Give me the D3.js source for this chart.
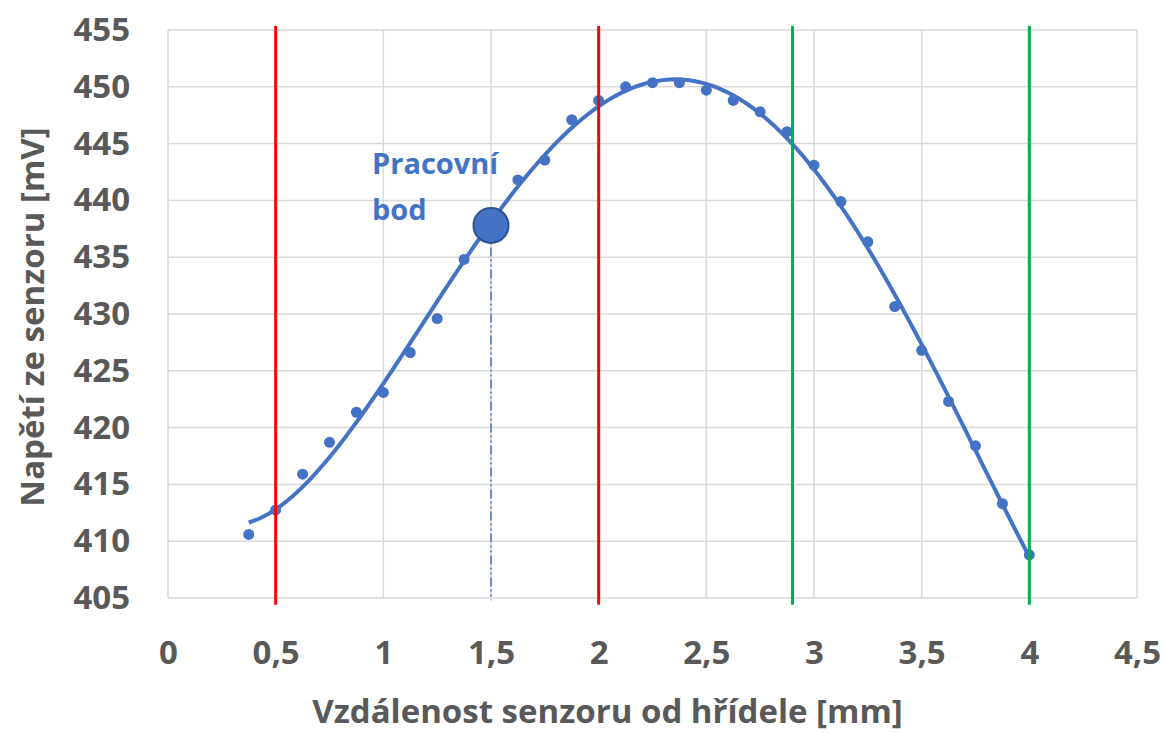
<!DOCTYPE html>
<html>
<head>
<meta charset="utf-8">
<script src="https://cdn.jsdelivr.net/npm/d3@7"></script>
<style>
  body { margin: 0; background: #fff; }
  text { font-family: "Open Sans", sans-serif; font-weight: bold; }
</style>
</head>
<body>
<div id="chart"></div>
<script>
// measured points: distance [mm] and sensor voltage [mV]
const distances = [0.375, 0.5, 0.625, 0.75, 0.875, 1.0, 1.125, 1.25, 1.375, 1.5,
    1.625, 1.75, 1.875, 2.0, 2.125, 2.25, 2.375, 2.5, 2.625, 2.75,
    2.875, 3.0, 3.125, 3.25, 3.375, 3.5, 3.625, 3.75, 3.875, 4.0];
const voltages = [410.6, 412.75, 415.9, 418.7, 421.35, 423.1, 426.6, 429.6, 434.8, 437.8,
    441.8, 443.55, 447.1, 448.8, 450.0, 450.36, 450.36, 449.7, 448.8, 447.8,
    446.05, 443.1, 439.9, 436.35, 430.65, 426.8, 422.3, 418.4, 413.3, 408.8];

// limits of the ranges
const redLines = [0.5, 2.0];
const greenLines = [2.9, 4.0];

// working point
const workX = 1.5;
const workY = 437.8;
const workLabel = ["Pracovní", "bod"];

const xTicks = [0, 0.5, 1, 1.5, 2, 2.5, 3, 3.5, 4, 4.5];
const yTicks = [405, 410, 415, 420, 425, 430, 435, 440, 445, 450, 455];

const xTitle = "Vzdálenost senzoru od hřídele [mm]";
const yTitle = "Napětí ze senzoru [mV]";

// set the dimensions and margins of the graph
const margin = { top: 30, right: 28, bottom: 135, left: 168 },
    width = 1165 - margin.left - margin.right,
    height = 733 - margin.top - margin.bottom;

const svg = d3.select("#chart")
    .append("svg")
    .attr("width", 1165)
    .attr("height", 733)
    .append("g")
    .attr("transform", `translate(${margin.left},${margin.top})`);

const x = d3.scaleLinear().domain([0, 4.5]).range([0, width]);
const y = d3.scaleLinear().domain([405, 455]).range([height, 0]);

// grid lines
svg.append("g")
    .selectAll("line")
    .data(yTicks)
    .join("line")
    .attr("x1", 0).attr("x2", width)
    .attr("y1", d => y(d)).attr("y2", d => y(d))
    .attr("stroke", "#d9d9d9")
    .attr("stroke-width", 1.5);

svg.append("g")
    .selectAll("line")
    .data(xTicks)
    .join("line")
    .attr("x1", d => x(d)).attr("x2", d => x(d))
    .attr("y1", 0).attr("y2", height)
    .attr("stroke", "#d9d9d9")
    .attr("stroke-width", 1.5);

// x axis labels
const xAxis = svg.append("g")
    .attr("transform", `translate(0, ${height})`)
    .call(d3.axisBottom(x).tickValues(xTicks).tickSize(0).tickPadding(43)
        .tickFormat(d => String(d).replace(".", ",")));
xAxis.select(".domain").remove();
xAxis.selectAll("text")
    .attr("fill", "#595959")
    .style("font-size", "33px");

// y axis labels
const yAxis = svg.append("g")
    .call(d3.axisLeft(y).tickValues(yTicks).tickSize(0).tickPadding(38));
yAxis.select(".domain").remove();
yAxis.selectAll("text")
    .attr("fill", "#595959")
    .style("font-size", "33px");

// axis titles
svg.append("text")
    .attr("x", width / 2 - 45)
    .attr("y", height + 125)
    .attr("text-anchor", "middle")
    .attr("fill", "#595959")
    .style("font-size", "33px")
    .text(xTitle);

svg.append("text")
    .attr("transform", "rotate(-90)")
    .attr("x", -287)
    .attr("y", -124)
    .attr("text-anchor", "middle")
    .attr("fill", "#595959")
    .style("font-size", "33px")
    .text(yTitle);

// polynomial trendline (least squares, order 4) as Excel does it
function polyFit(xs, ys, order) {
    const n = order + 1;
    const A = Array.from({ length: n }, () => new Array(n + 1).fill(0));
    xs.forEach((xv, k) => {
        for (let i = 0; i < n; i++) {
            for (let j = 0; j < n; j++) A[i][j] += Math.pow(xv, i + j);
            A[i][n] += ys[k] * Math.pow(xv, i);
        }
    });
    for (let c = 0; c < n; c++) {
        let p = c;
        for (let r = c + 1; r < n; r++) if (Math.abs(A[r][c]) > Math.abs(A[p][c])) p = r;
        [A[c], A[p]] = [A[p], A[c]];
        for (let r = 0; r < n; r++) {
            if (r === c) continue;
            const f = A[r][c] / A[c][c];
            for (let k = c; k <= n; k++) A[r][k] -= f * A[c][k];
        }
    }
    return A.map((row, i) => row[n] / row[i]);
}
const coef = polyFit(distances, voltages, 4);
const fitY = xv => coef.reduce((s, c, i) => s + c * Math.pow(xv, i), 0);
const fitData = d3.range(0, 201).map(i => {
    const xv = distances[0] + (distances[distances.length - 1] - distances[0]) * i / 200;
    return [xv, fitY(xv)];
});

svg.append("path")
    .datum(fitData)
    .attr("fill", "none")
    .attr("stroke", "#4472c4")
    .attr("stroke-width", 4)
    .attr("d", d3.line().x(d => x(d[0])).y(d => y(d[1])));

// measured points
svg.append("g")
    .selectAll("circle")
    .data(distances.map((d, i) => [d, voltages[i]]))
    .join("circle")
    .attr("cx", d => x(d[0]))
    .attr("cy", d => y(d[1]))
    .attr("r", 5.5)
    .attr("fill", "#4472c4");

// range limits
svg.append("g")
    .selectAll("line")
    .data(redLines.map(d => ({ v: d, c: "#ff0000" })).concat(greenLines.map(d => ({ v: d, c: "#00b050" }))))
    .join("line")
    .attr("x1", d => x(d.v)).attr("x2", d => x(d.v))
    .attr("y1", y(455.35)).attr("y2", y(404.4))
    .attr("stroke", d => d.c)
    .attr("stroke-width", 3);

// working point with drop line
svg.append("line")
    .attr("x1", x(workX)).attr("x2", x(workX))
    .attr("y1", y(workY)).attr("y2", y(404.8))
    .attr("stroke", "#4472c4")
    .attr("stroke-width", 1.5)
    .attr("stroke-dasharray", "9,3,2,3,2,3");

svg.append("circle")
    .attr("cx", x(workX))
    .attr("cy", y(workY))
    .attr("r", 17.5)
    .attr("fill", "#4472c4")
    .attr("stroke", "#2f528f")
    .attr("stroke-width", 2);

svg.append("g")
    .selectAll("text")
    .data(workLabel)
    .join("text")
    .attr("x", x(workX) - 119)
    .attr("y", (d, i) => y(workY) - 51 + i * 46)
    .attr("fill", "#4472c4")
    .style("font-size", "29px")
    .text(d => d);
</script>
</body>
</html>
